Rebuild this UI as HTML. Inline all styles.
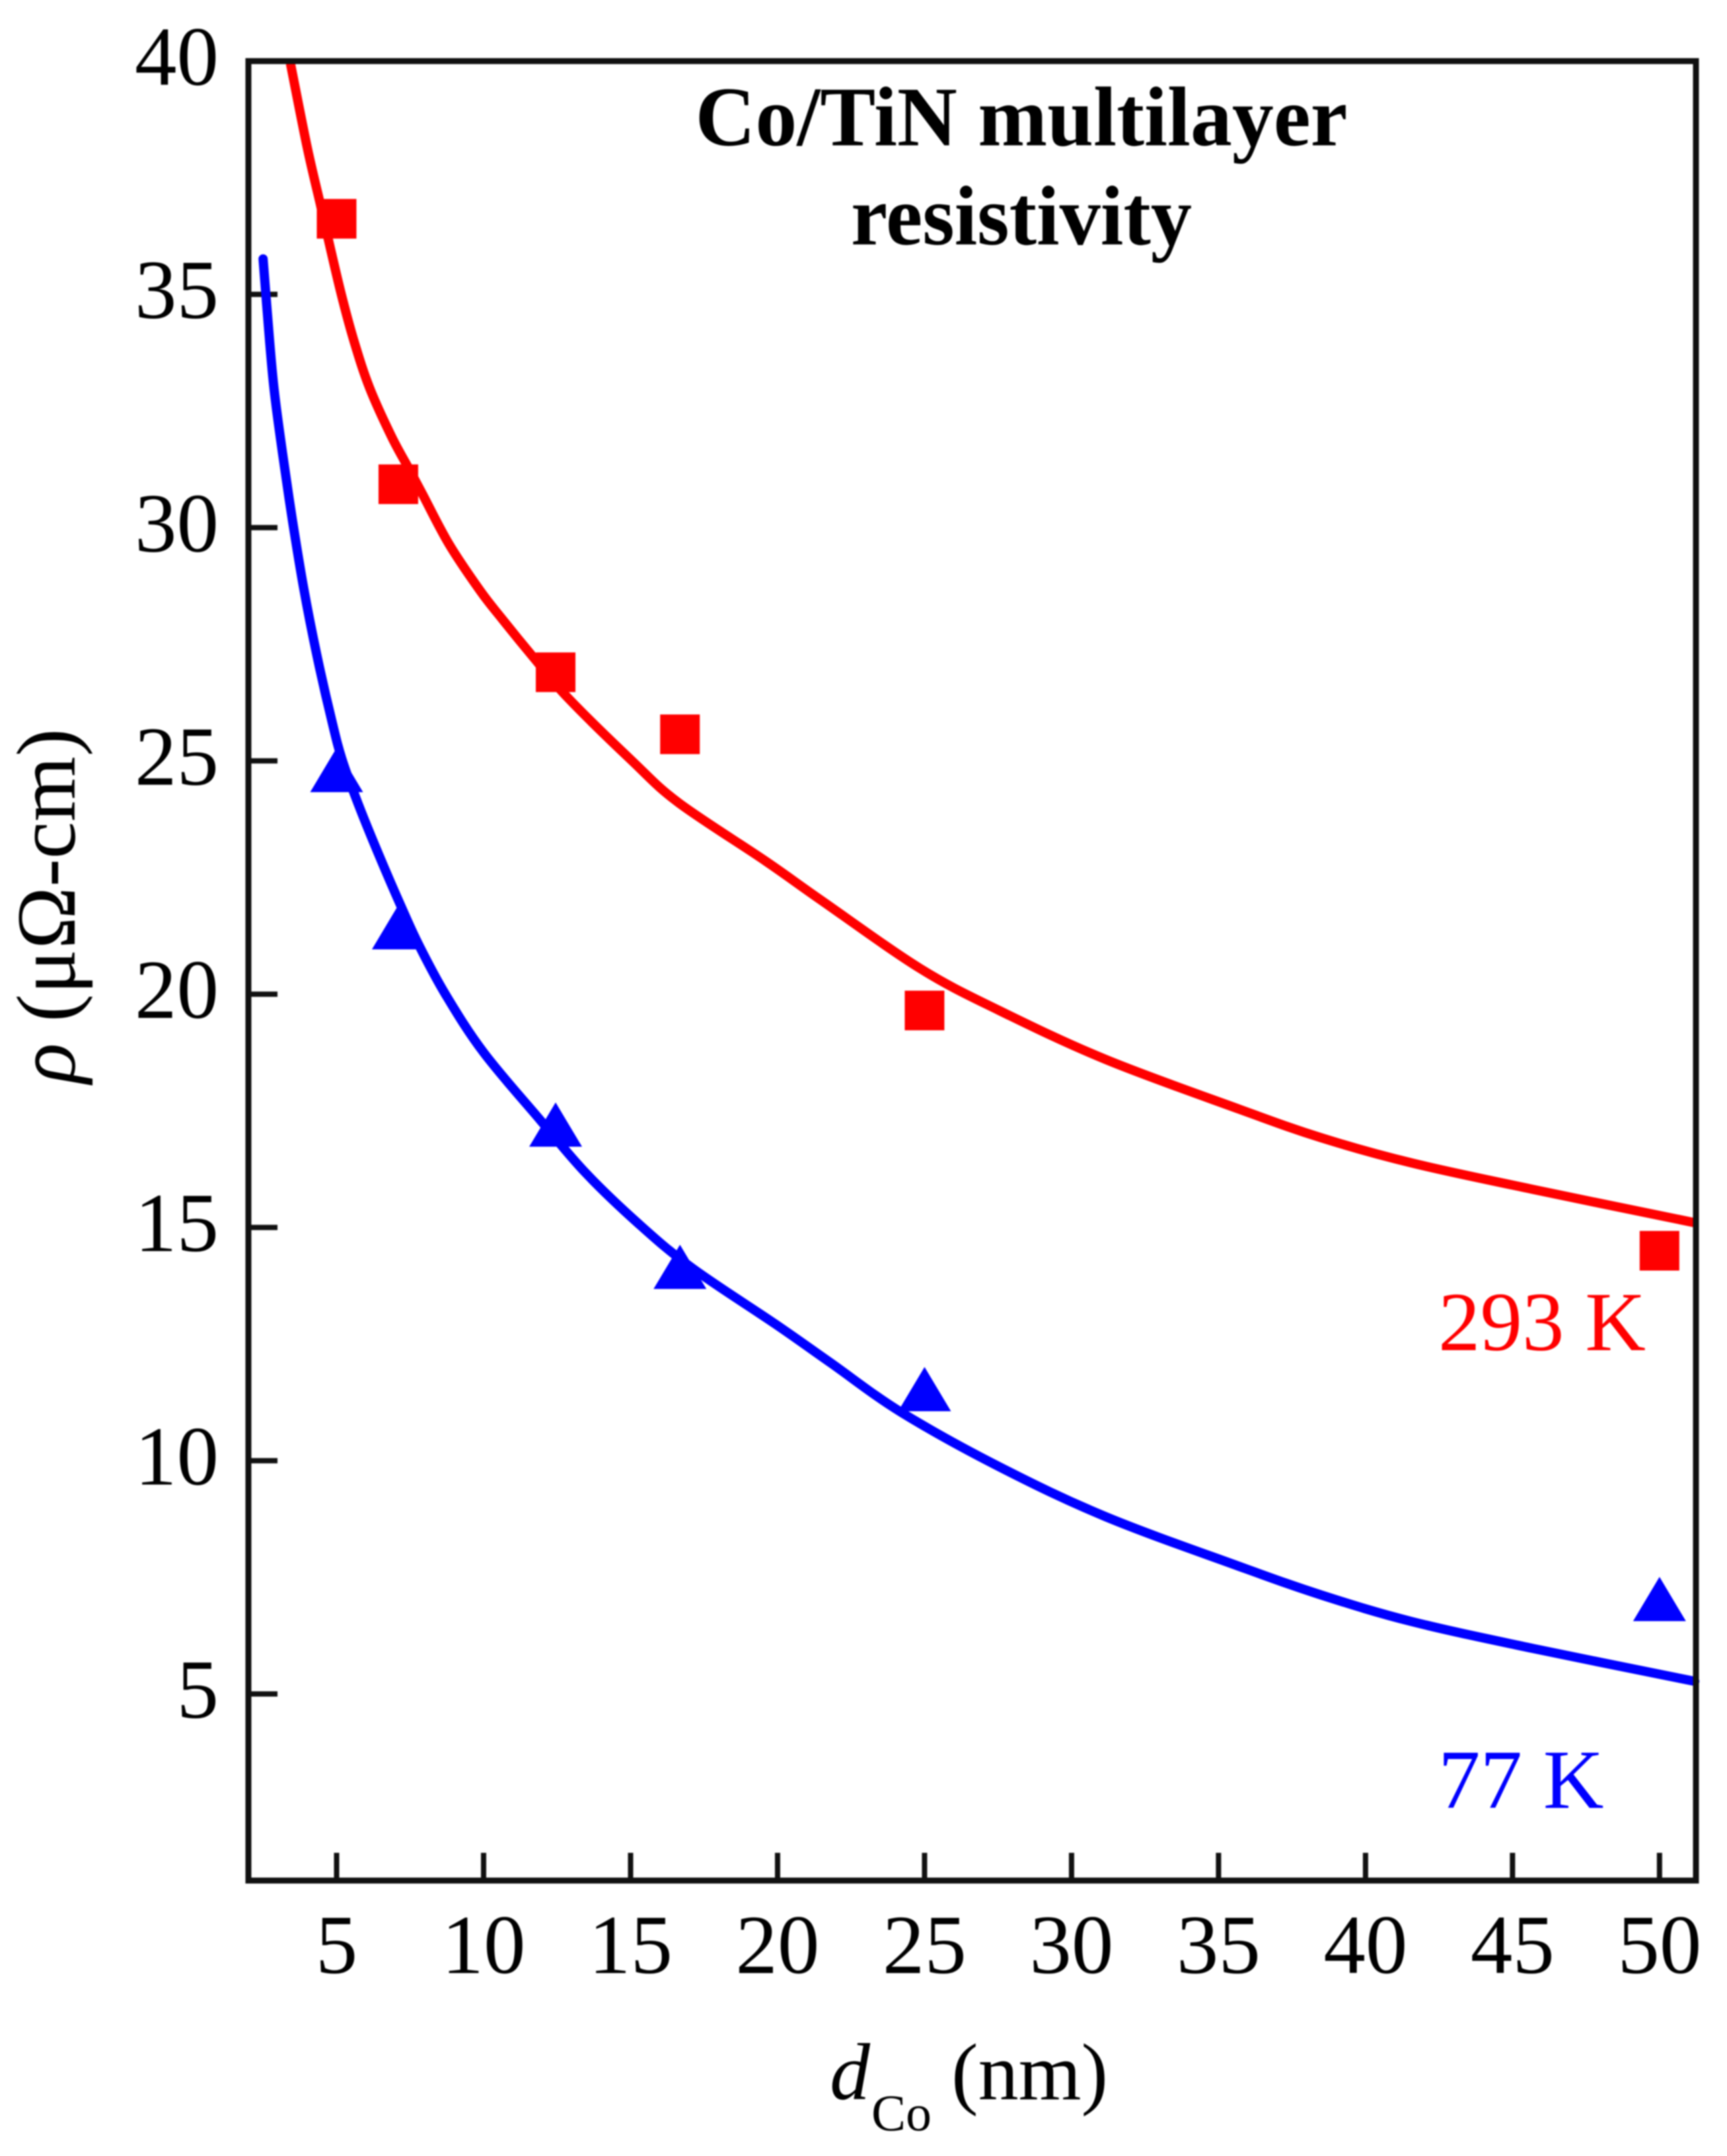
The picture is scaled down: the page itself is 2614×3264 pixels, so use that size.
<!DOCTYPE html>
<html lang="en">
<head>
<meta charset="utf-8">
<title>Co/TiN multilayer resistivity</title>
<style>
html,body{margin:0;padding:0;background:#fff;}
svg{display:block;filter:blur(1px);}
text{font-family:"Liberation Serif",serif;fill:#000;}
</style>
</head>
<body>
<svg id="chart" xmlns="http://www.w3.org/2000/svg" width="2614" height="3264" viewBox="0 0 2614 3264">
  <rect x="0" y="0" width="2614" height="3264" fill="#fff"/>
  <g id="ticks"></g>
  <g id="series"></g>
  <rect id="frame" fill="none" stroke="#111" stroke-width="9"/>
  <text x="1546" y="220" text-anchor="middle" font-weight="bold" font-size="128" textLength="987" lengthAdjust="spacingAndGlyphs">Co/TiN multilayer</text>
  <text x="1546" y="370" text-anchor="middle" font-weight="bold" font-size="128" textLength="516" lengthAdjust="spacingAndGlyphs">resistivity</text>
  <text x="2177" y="2044" font-size="127" style="fill:#f00">293 K</text>
  <text x="2177" y="2737" font-size="127" style="fill:#00f">77 K</text>
  <text transform="translate(113,1640) rotate(-90)" font-size="127"><tspan font-style="italic">ρ</tspan> (μΩ-cm)</text>
  <text y="3178" font-size="122"><tspan x="1256" font-style="italic">d</tspan><tspan x="1319" y="3225" font-size="78">Co</tspan><tspan x="1440" y="3178">(nm)</tspan></text>
</svg>
<script>
const xTickValues = [5, 10, 15, 20, 25, 30, 35, 40, 45, 50];
const yTickValues = [5, 10, 15, 20, 25, 30, 35, 40];
const pointsX = [5, 7.1, 12.45, 16.68, 25, 50];
const points293K = [36.62, 30.93, 26.9, 25.57, 19.65, 14.5];
const points77K = [24.67, 21.3, 17.07, 14.02, 11.4, 6.9];
const fit293KX = [3.43, 4.0, 4.44, 4.71, 5.16, 5.6, 6.12, 6.87, 7.47, 7.92, 8.82, 9.88, 10.62, 11.72, 12.87, 15.05, 16.64, 19.6, 21.49, 24.85, 27.54, 31.16, 35.68, 38.5, 41.58, 45.66, 51.2];
const fit293KY = [39.95, 38.15, 36.95, 36.2, 35, 33.98, 33, 31.95, 31.25, 30.72, 29.65, 28.65, 28.05, 27.2, 26.35, 25, 24.1, 22.85, 22.01, 20.55, 19.65, 18.6, 17.54, 16.92, 16.38, 15.82, 15.1];
const fit77KX = [2.5, 2.64, 2.86, 3.16, 3.5, 3.88, 4.33, 4.84, 5.2, 5.75, 6.44, 7.18, 7.8, 8.7, 10, 11.93, 13.47, 15.27, 17.07, 19.92, 21.8, 24.2, 27.54, 31.16, 35.68, 38.5, 41.58, 45.66, 51.2];
const fit77KY = [35.76, 34.63, 33.04, 31.6, 30.15, 28.7, 27.26, 25.85, 25, 24.05, 22.98, 21.9, 21.05, 20, 18.75, 17.3, 16.17, 15.08, 14.14, 12.93, 12.1, 11.04, 9.87, 8.8, 7.74, 7.12, 6.55, 5.98, 5.27];

const plotLeft = 376, plotRight = 2567, plotTop = 92.5, plotBottom = 2847;
const xMin = 2, xMax = 51.24, yMin = 1, yMax = 40;
const svgNS = 'http://www.w3.org/2000/svg';
function sx(v){ return plotLeft + (v - xMin) / (xMax - xMin) * (plotRight - plotLeft); }
function sy(v){ return plotBottom - (v - yMin) / (yMax - yMin) * (plotBottom - plotTop); }
function mk(tag, parent, attrs){
  const el = document.createElementNS(svgNS, tag);
  for (const k in attrs) el.setAttribute(k, attrs[k]);
  parent.appendChild(el);
  return el;
}
const frame = document.getElementById('frame');
frame.setAttribute('x', plotLeft);
frame.setAttribute('y', plotTop);
frame.setAttribute('width', plotRight - plotLeft);
frame.setAttribute('height', plotBottom - plotTop);

const ticks = document.getElementById('ticks');
xTickValues.forEach(function(v){
  const t = mk('line', ticks, {x1:sx(v), x2:sx(v), y1:plotBottom, y2:plotBottom-42, stroke:'#111', 'stroke-width':8});
  
  
  const l = mk('text', ticks, {x:sx(v), y:2987, 'text-anchor':'middle', 'font-size':127});
  
  
  l.textContent = v;
});
yTickValues.forEach(function(v){
  if (v < 40) {
    const t = mk('line', ticks, {x1:plotLeft, x2:plotLeft+44, y1:sy(v), y2:sy(v), stroke:'#111', 'stroke-width':8});
    
    
  }
  const l = mk('text', ticks, {x:331, y:sy(v)+36, 'text-anchor':'end', 'font-size':127});
  
  
  l.textContent = v;
});

const series = document.getElementById('series');
function smoothPath(xs, ys){
  const p = xs.map(function(x, i){ return [sx(x), sy(ys[i])]; });
  let d = 'M' + p[0][0].toFixed(1) + ' ' + p[0][1].toFixed(1);
  for (let i = 0; i < p.length - 1; i++) {
    const a = p[Math.max(0, i - 1)], b = p[i], c = p[i + 1], e = p[Math.min(p.length - 1, i + 2)];
    const c1x = b[0] + (c[0] - a[0]) / 6, c1y = b[1] + (c[1] - a[1]) / 6;
    const c2x = c[0] - (e[0] - b[0]) / 6, c2y = c[1] - (e[1] - b[1]) / 6;
    d += 'C' + c1x.toFixed(1) + ' ' + c1y.toFixed(1) + ' ' + c2x.toFixed(1) + ' ' + c2y.toFixed(1) + ' ' + c[0].toFixed(1) + ' ' + c[1].toFixed(1);
  }
  return d;
}
const lineRed = mk('path', series, {d:smoothPath(fit293KX, fit293KY), fill:'none', stroke:'#f00', 'stroke-width':14, 'stroke-linejoin':'round'});


const lineBlue = mk('path', series, {d:smoothPath(fit77KX, fit77KY), fill:'none', stroke:'#00f', 'stroke-width':14, 'stroke-linejoin':'round', 'stroke-linecap':'round'});



pointsX.forEach(function(x, i){
  const px = sx(x), py = sy(points293K[i]);
  const s = mk('rect', series, {x:px-30, y:py-30, width:60, height:60, fill:'#f00'});
  
  
  const qy = sy(points77K[i]);
  const tri = mk('polygon', series, {points:(px)+','+(qy-43)+' '+(px+40)+','+(qy+24)+' '+(px-40)+','+(qy+24), fill:'#00f'});
  
  
});
</script>
</body>
</html>
